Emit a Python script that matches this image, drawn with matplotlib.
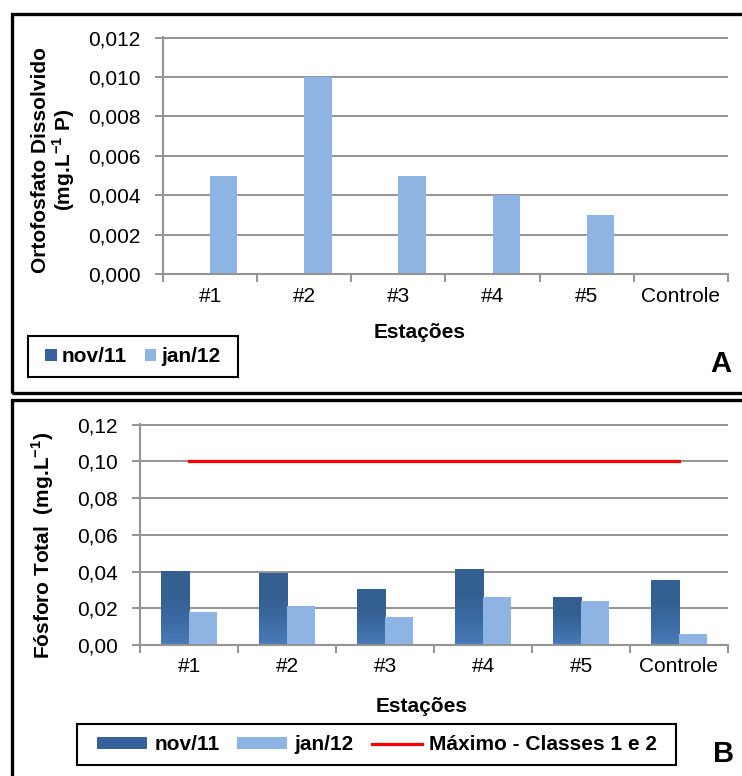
import numpy as np
import matplotlib
matplotlib.use('Agg')
import matplotlib.pyplot as plt
from matplotlib.colors import LinearSegmentedColormap
from matplotlib.patches import Patch, Rectangle
from matplotlib.lines import Line2D

plt.rcParams['font.family'] = ['Liberation Sans', 'DejaVu Sans']
plt.rcParams['mathtext.fontset'] = 'custom'
plt.rcParams['mathtext.rm'] = 'Liberation Sans'
plt.rcParams['mathtext.bf'] = 'Liberation Sans:bold'

# stations and sampling campaigns
estacoes = ['#1', '#2', '#3', '#4', '#5', 'Controle']
campanhas = ['nov/11', 'jan/12']

# dissolved orthophosphate (mg/L P)
orto_nov = [0.0, 0.0, 0.0, 0.0, 0.0, 0.0]
orto_jan = [0.005, 0.010, 0.005, 0.004, 0.003, 0.0]
orto_ticks = [0.000, 0.002, 0.004, 0.006, 0.008, 0.010, 0.012]

# total phosphorus (mg/L)
pt_nov = [0.040, 0.039, 0.030, 0.041, 0.026, 0.035]
pt_jan = [0.018, 0.021, 0.015, 0.026, 0.024, 0.006]
pt_max = [0.10, 0.10, 0.10, 0.10, 0.10, 0.10]
pt_ticks = [0.00, 0.02, 0.04, 0.06, 0.08, 0.10, 0.12]
max_label = 'Máximo - Classes 1 e 2'

W, H = 742, 776
FS = 15
dark = '#36619a'
light = '#8eb4e3'
gray = '#949494'
nov_cmap = LinearSegmentedColormap.from_list('nov', ['#4a7cb9', '#3c6aa3', '#345f91', '#345f91'])

x = np.arange(len(estacoes))
bw = 0.29


def px(xp, yp):
    # pixel position (from top-left) to figure fraction
    return xp / W, 1 - yp / H


def gradient_fill(ax, bars):
    grad = np.linspace(0, 1, 256).reshape(-1, 1)
    for b in bars:
        x0, y0 = b.get_xy()
        w, h = b.get_width(), b.get_height()
        b.set_facecolor('none')
        if h <= 0:
            continue
        ax.imshow(grad, cmap=nov_cmap, origin='lower', aspect='auto',
                  extent=[x0, x0 + w, y0, y0 + h], zorder=2,
                  interpolation='bilinear')


def style_axis(ax, ticks, fmt):
    ax.set_xlim(-0.5, len(estacoes) - 0.5)
    ax.set_ylim(ticks[0], ticks[-1] * 1.003)
    ax.set_yticks(ticks)
    ax.set_yticklabels([fmt.format(t).replace('.', ',') for t in ticks])
    ax.set_xticks(np.arange(-0.5, len(estacoes), 1))
    ax.set_xticklabels([])
    ax.set_xticks(x, minor=True)
    ax.set_xticklabels(estacoes, minor=True)
    ax.tick_params(axis='x', which='minor', length=0, pad=9, labelsize=FS)
    ax.tick_params(axis='x', which='major', length=6, width=1.4, color=gray)
    ax.tick_params(axis='y', length=6, width=1.4, color=gray, pad=10, labelsize=FS)
    ax.set_axisbelow(True)
    ax.grid(axis='y', color=gray, lw=1.4)
    for s in ['top', 'right']:
        ax.spines[s].set_visible(False)
    for s in ['left', 'bottom']:
        ax.spines[s].set_color(gray)
        ax.spines[s].set_linewidth(1.5)


fig = plt.figure(figsize=(W / 100, H / 100), dpi=100)

# ---- panel A: orthophosphate
axA = fig.add_axes([163 / W, 1 - 274 / H, (728 - 163) / W, (274 - 37) / H])
axA.bar(x - bw / 2, orto_nov, bw, color=dark, zorder=2)
axA.bar(x + bw / 2, orto_jan, bw, color=light, zorder=2)
style_axis(axA, orto_ticks, '{:.3f}')

# ---- panel B: total phosphorus
axB = fig.add_axes([140 / W, 1 - 645 / H, (728 - 140) / W, (645 - 424) / H])
bars_nov = axB.bar(x - bw / 2, pt_nov, bw, color=dark, zorder=2)
gradient_fill(axB, bars_nov)
axB.bar(x + bw / 2, pt_jan, bw, color=light, zorder=2)
axB.plot(x, pt_max, color='#ff0000', lw=2.3, zorder=3)
style_axis(axB, pt_ticks, '{:.2f}')

# axis titles
fig.text(*px(54, 160), 'Ortofosfato Dissolvido\n(mg.L$^{\\mathbf{-1}}$ P)', rotation=90,
         ha='center', va='center', multialignment='center', linespacing=1.0,
         fontsize=FS, fontweight='bold')
fig.text(*px(43, 545), 'Fósforo Total  (mg.L$^{\\mathbf{-1}}$)', rotation=90,
         ha='center', va='center', fontsize=FS, fontweight='bold')
fig.text(*px(420, 333), 'Estações', ha='center', va='center', fontsize=FS, fontweight='bold')
fig.text(*px(422, 706), 'Estações', ha='center', va='center', fontsize=FS, fontweight='bold')

# panel letters
fig.text(*px(721, 364), 'A', ha='center', va='center', fontsize=21, fontweight='bold')
fig.text(*px(724, 754), 'B', ha='center', va='center', fontsize=21, fontweight='bold')

# legends (frame drawn separately)
legA = fig.legend([Patch(fc=dark), Patch(fc=light)], campanhas, loc='center',
                  bbox_to_anchor=px(133, 357), ncol=2, frameon=False,
                  handlelength=0.55, handleheight=0.55, handletextpad=0.25,
                  columnspacing=0.85, prop={'weight': 'bold', 'size': FS})
legB = fig.legend([Patch(fc=dark), Patch(fc=light), Line2D([], [], color='#ff0000', lw=2.3)],
                  campanhas + [max_label], loc='center', bbox_to_anchor=px(377, 745),
                  ncol=3, frameon=False, handlelength=2.4, handleheight=0.5,
                  handletextpad=0.35, columnspacing=0.85,
                  prop={'weight': 'bold', 'size': FS})
for (x0, y0, x1, y1) in [(28, 336, 238, 377), (77, 724, 676, 765)]:
    fig.add_artist(Rectangle(px(x0, y1), (x1 - x0) / W, (y1 - y0) / H,
                             transform=fig.transFigure, fill=False, ec='black', lw=1.5))

# outer frames around each panel
fig.add_artist(Rectangle(px(11.5, 393), 1.0, (393 - 13.8) / H, transform=fig.transFigure,
                         fill=False, ec='black', lw=2.4))
fig.add_artist(Rectangle(px(11.5, 800), 1.0, (800 - 400) / H, transform=fig.transFigure,
                         fill=False, ec='black', lw=2.4))

fig.savefig('out.png', dpi=100)
